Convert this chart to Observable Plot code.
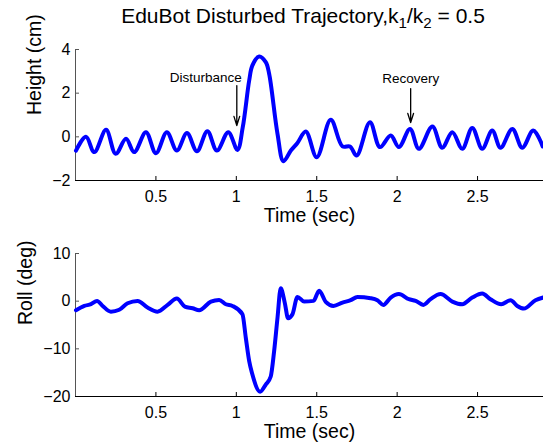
<!DOCTYPE html>
<html>
<head>
<meta charset="utf-8">
<script src="https://cdn.jsdelivr.net/npm/d3@7"></script>
<script src="https://cdn.jsdelivr.net/npm/@observablehq/plot@0.6"></script>
<style>
  html, body { margin: 0; padding: 0; background: #fff; }
  #wrap { position: relative; width: 543px; height: 442px; overflow: hidden;
          font-family: "Liberation Sans", Arial, Helvetica, sans-serif; color: #000; }
  #title { position: absolute; left: 303px; top: 5px; transform: translateX(-50%);
           font-size: 21px; line-height: 21px; white-space: nowrap; z-index: 2; }
  #title sub { font-size: 0.72em; vertical-align: -0.3em; line-height: 0; }
  #p1, #p2 { position: absolute; left: 0; }
  #p1 { top: 0; }
  #p2 { top: 230px; }
</style>
</head>
<body>
<div id="wrap">
  <div id="title">EduBot Disturbed Trajectory,k<sub>1</sub>/k<sub>2</sub> = 0.5</div>
  <div id="p1"></div>
  <div id="p2"></div>
</div>
<script>
// ---- data ----
const timeTicks = [0.5, 1, 1.5, 2, 2.5];
const heightTicks = [-2, 0, 2, 4];
const rollTicks = [-20, -10, 0, 10];

const heightT = [0.003,0.065,0.117,0.190,0.250,0.314,0.365,0.438,0.500,0.568,0.630,0.693,0.755,0.820,0.879,0.950,1.007,1.040,1.080,1.100,1.142,1.183,1.204,1.256,1.293,1.339,1.380,1.432,1.500,1.587,1.660,1.707,1.748,1.831,1.893,1.960,2.011,2.080,2.135,2.219,2.280,2.343,2.405,2.467,2.529,2.591,2.643,2.716,2.778,2.846,2.905];
const heightV = [-0.63,0.00,-0.70,0.32,-0.78,-0.09,-0.70,0.21,-0.75,0.21,-0.63,0.17,-0.66,0.26,-0.63,0.21,-0.60,0.44,2.58,3.27,3.68,3.42,2.89,0.14,-1.12,-0.63,-0.28,0.24,-0.93,0.78,-0.44,-0.44,-0.86,0.67,-0.47,0.06,-0.47,0.36,-0.55,0.47,-0.50,0.21,-0.55,0.41,-0.55,0.29,-0.50,0.36,-0.50,0.29,-0.44];

const rollT = [0.003,0.055,0.096,0.134,0.169,0.220,0.272,0.324,0.386,0.448,0.510,0.573,0.630,0.680,0.728,0.769,0.842,0.893,0.935,0.976,1.038,1.059,1.080,1.100,1.148,1.183,1.214,1.235,1.256,1.276,1.301,1.322,1.349,1.380,1.421,1.480,1.515,1.556,1.604,1.660,1.711,1.753,1.835,1.877,1.914,1.960,2.011,2.073,2.115,2.163,2.208,2.270,2.343,2.405,2.467,2.529,2.580,2.647,2.705,2.747,2.788,2.860,2.908];
const rollV = [-1.9,-1.0,-0.64,0.06,-1.0,-2.2,-1.8,-0.43,0.06,-1.35,-2.2,-0.78,0.55,-1.14,-1.48,-1.9,-0.08,0.27,-0.64,-1.0,-2.75,-7.7,-12.6,-15.4,-19.0,-17.5,-15.8,-10.5,-3.5,2.7,-0.3,-3.6,-2.75,0.9,-0.08,0.06,2.2,-0.15,-1.0,-0.3,0.2,0.9,0.63,0.2,-0.78,0.76,1.48,0.42,0.06,-0.78,0.42,1.48,-0.08,-0.64,0.76,1.6,0.42,-0.64,0.2,-1.0,-1.55,0.2,0.76];

const annoLabels = ["Disturbance", "Recovery"];
const annoTextT = [0.81, 2.084];
const annoTextH = [2.7, 2.67];
const arrowT = [1.003, 2.084];
const arrowFromH = [2.35, 2.21];
const arrowToH = [0.52, 0.655];

const xLabel = ["Time (sec)"];
const heightLabel = ["Height (cm)"];
const rollLabel = ["Roll (deg)"];
const timeDomain = [0, 2.91];

// ---- drawing ----
const font = "Liberation Sans, Arial, Helvetica, sans-serif";
const W = 543;
const fmt = d => String(d).replace("-", "\u2212");

function panel({height, marginTop, marginBottom, yDomain, yTicks, T, V, curve, yLabel, yLabelDx, extra}) {
  const plotW = W - 75;
  const plotH = height - marginTop - marginBottom;
  return Plot.plot({
    width: W, height, marginLeft: 75, marginRight: 0, marginTop, marginBottom,
    style: {fontFamily: font, fontSize: "16px", color: "#000", background: "transparent", overflow: "visible"},
    x: {domain: timeDomain},
    y: {domain: yDomain},
    marks: [
      Plot.axisX(timeTicks, {tickSize: 0, tickPadding: 10, label: null, fontSize: 16, tickFormat: fmt}),
      Plot.axisY(yTicks, {tickSize: 0, tickPadding: 5, label: null, fontSize: 16, tickFormat: fmt}),
      Plot.tickX(timeTicks, {x: d => d, insetTop: plotH - 4, stroke: "#000"}),
      Plot.tickY(yTicks, {y: d => d, insetRight: plotW - 4, stroke: "#555"}),
      Plot.ruleX([timeDomain[0]], {stroke: "#555"}),
      Plot.ruleY([yDomain[0]], {stroke: "#000"}),
      Plot.line(T, {x: T, y: V, stroke: "#0000ff", strokeWidth: 4, curve, strokeLinejoin: "round", strokeLinecap: "round"}),
      ...(extra || []),
      Plot.text(xLabel, {frameAnchor: "bottom", text: d => d, dy: 35, lineAnchor: "middle", fontSize: 19.5}),
      Plot.text(yLabel, {frameAnchor: "left", text: d => d, rotate: -90, dx: yLabelDx, lineAnchor: "middle", fontSize: 19.5})
    ]
  });
}

const p1 = panel({
  height: 230, marginTop: 49, marginBottom: 50,
  yDomain: [-2, 4], yTicks: heightTicks, T: heightT, V: heightV, curve: "catmull-rom",
  yLabel: heightLabel, yLabelDx: -41,
  extra: [
    Plot.arrow(arrowT, {x1: arrowT, y1: arrowFromH, x2: arrowT, y2: arrowToH, stroke: "#000", strokeWidth: 1.3, headLength: 11, headAngle: 35}),
    Plot.text(annoLabels, {x: annoTextT, y: annoTextH, text: annoLabels, fontSize: 13.5, lineAnchor: "middle"})
  ]
});
document.getElementById("p1").appendChild(p1);

const p2 = panel({
  height: 212, marginTop: 23, marginBottom: 46,
  yDomain: [-20, 10], yTicks: rollTicks, T: rollT, V: rollV, curve: "monotone-x",
  yLabel: rollLabel, yLabelDx: -50
});
document.getElementById("p2").appendChild(p2);
</script>
</body>
</html>
